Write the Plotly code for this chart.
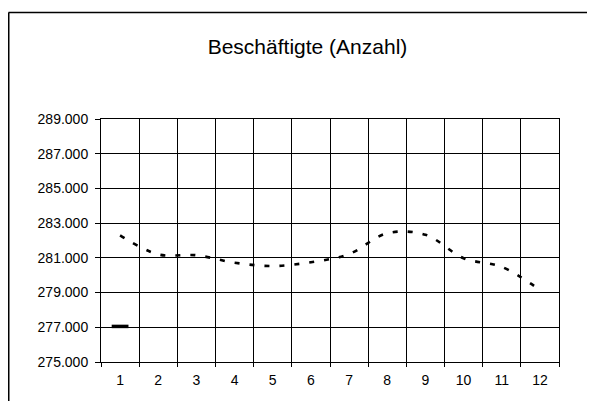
import plotly.graph_objects as go

months = ["1", "2", "3", "4", "5", "6", "7", "8", "9", "10", "11", "12"]
beschaeftigte = [282300, 281200, 281150, 280720, 280530, 280750, 281220, 282420, 282330, 280980, 280480, 279150]
marker_cat = ["1"]
marker_val = [277050]
y_ticks = [275000, 277000, 279000, 281000, 283000, 285000, 287000, 289000]
y_labels = ["275.000", "277.000", "279.000", "281.000", "283.000", "285.000", "287.000", "289.000"]

fig = go.Figure()
fig.add_trace(go.Scatter(
    x=months, y=beschaeftigte, mode="lines",
    line=dict(color="black", width=2.6, dash="5px,10px", shape="spline", smoothing=1.0),
    showlegend=False,
))
fig.add_trace(go.Scatter(
    x=marker_cat, y=marker_val, mode="markers",
    marker=dict(symbol="line-ew", size=12, line=dict(color="black", width=3.5)),
    showlegend=False,
))

# page has an 8px body offset; figure sized to fit the 595x401 window
W, H = 587, 393
L, R, T, B = 93, 36, 111, 39
pw, ph = W - L - R, H - T - B

x_left = (0.5 - L) / pw
y_top = 1 + (T - 4.5) / ph

fig.update_layout(
    width=W, height=H,
    margin=dict(l=L, r=R, t=T, b=B),
    paper_bgcolor="white", plot_bgcolor="white",
    font=dict(family="Liberation Sans, Arial, sans-serif", size=14, color="black"),
    title=dict(text="Beschäftigte (Anzahl)", x=299.5 / W, xanchor="center",
               y=1 - 39 / H, yanchor="middle",
               font=dict(size=21, color="black")),
    xaxis=dict(type="category", categoryorder="array", categoryarray=months,
               tickson="boundaries", showgrid=True, gridcolor="black", gridwidth=1,
               showline=True, linecolor="black", linewidth=1, mirror=True,
               ticks="outside", ticklen=4, tickcolor="black",
               ticklabelstandoff=5, range=[-0.5, 11.5]),
    yaxis=dict(range=[275000, 289000], tickvals=y_ticks, ticktext=y_labels,
               showgrid=True, gridcolor="black", gridwidth=1, zeroline=False,
               showline=True, linecolor="black", linewidth=1, mirror=True,
               ticks="outside", ticklen=5, tickcolor="black",
               ticklabelstandoff=4),
    shapes=[
        dict(type="line", xref="paper", yref="paper",
             x0=x_left, x1=x_left, y0=-0.3, y1=y_top,
             line=dict(color="black", width=2), layer="below"),
        dict(type="line", xref="paper", yref="paper",
             x0=x_left, x1=1 + (W - L - pw) / pw, y0=y_top, y1=y_top,
             line=dict(color="black", width=1.5), layer="below"),
    ],
)

fig.write_html("out.html", config={"displayModeBar": False})
